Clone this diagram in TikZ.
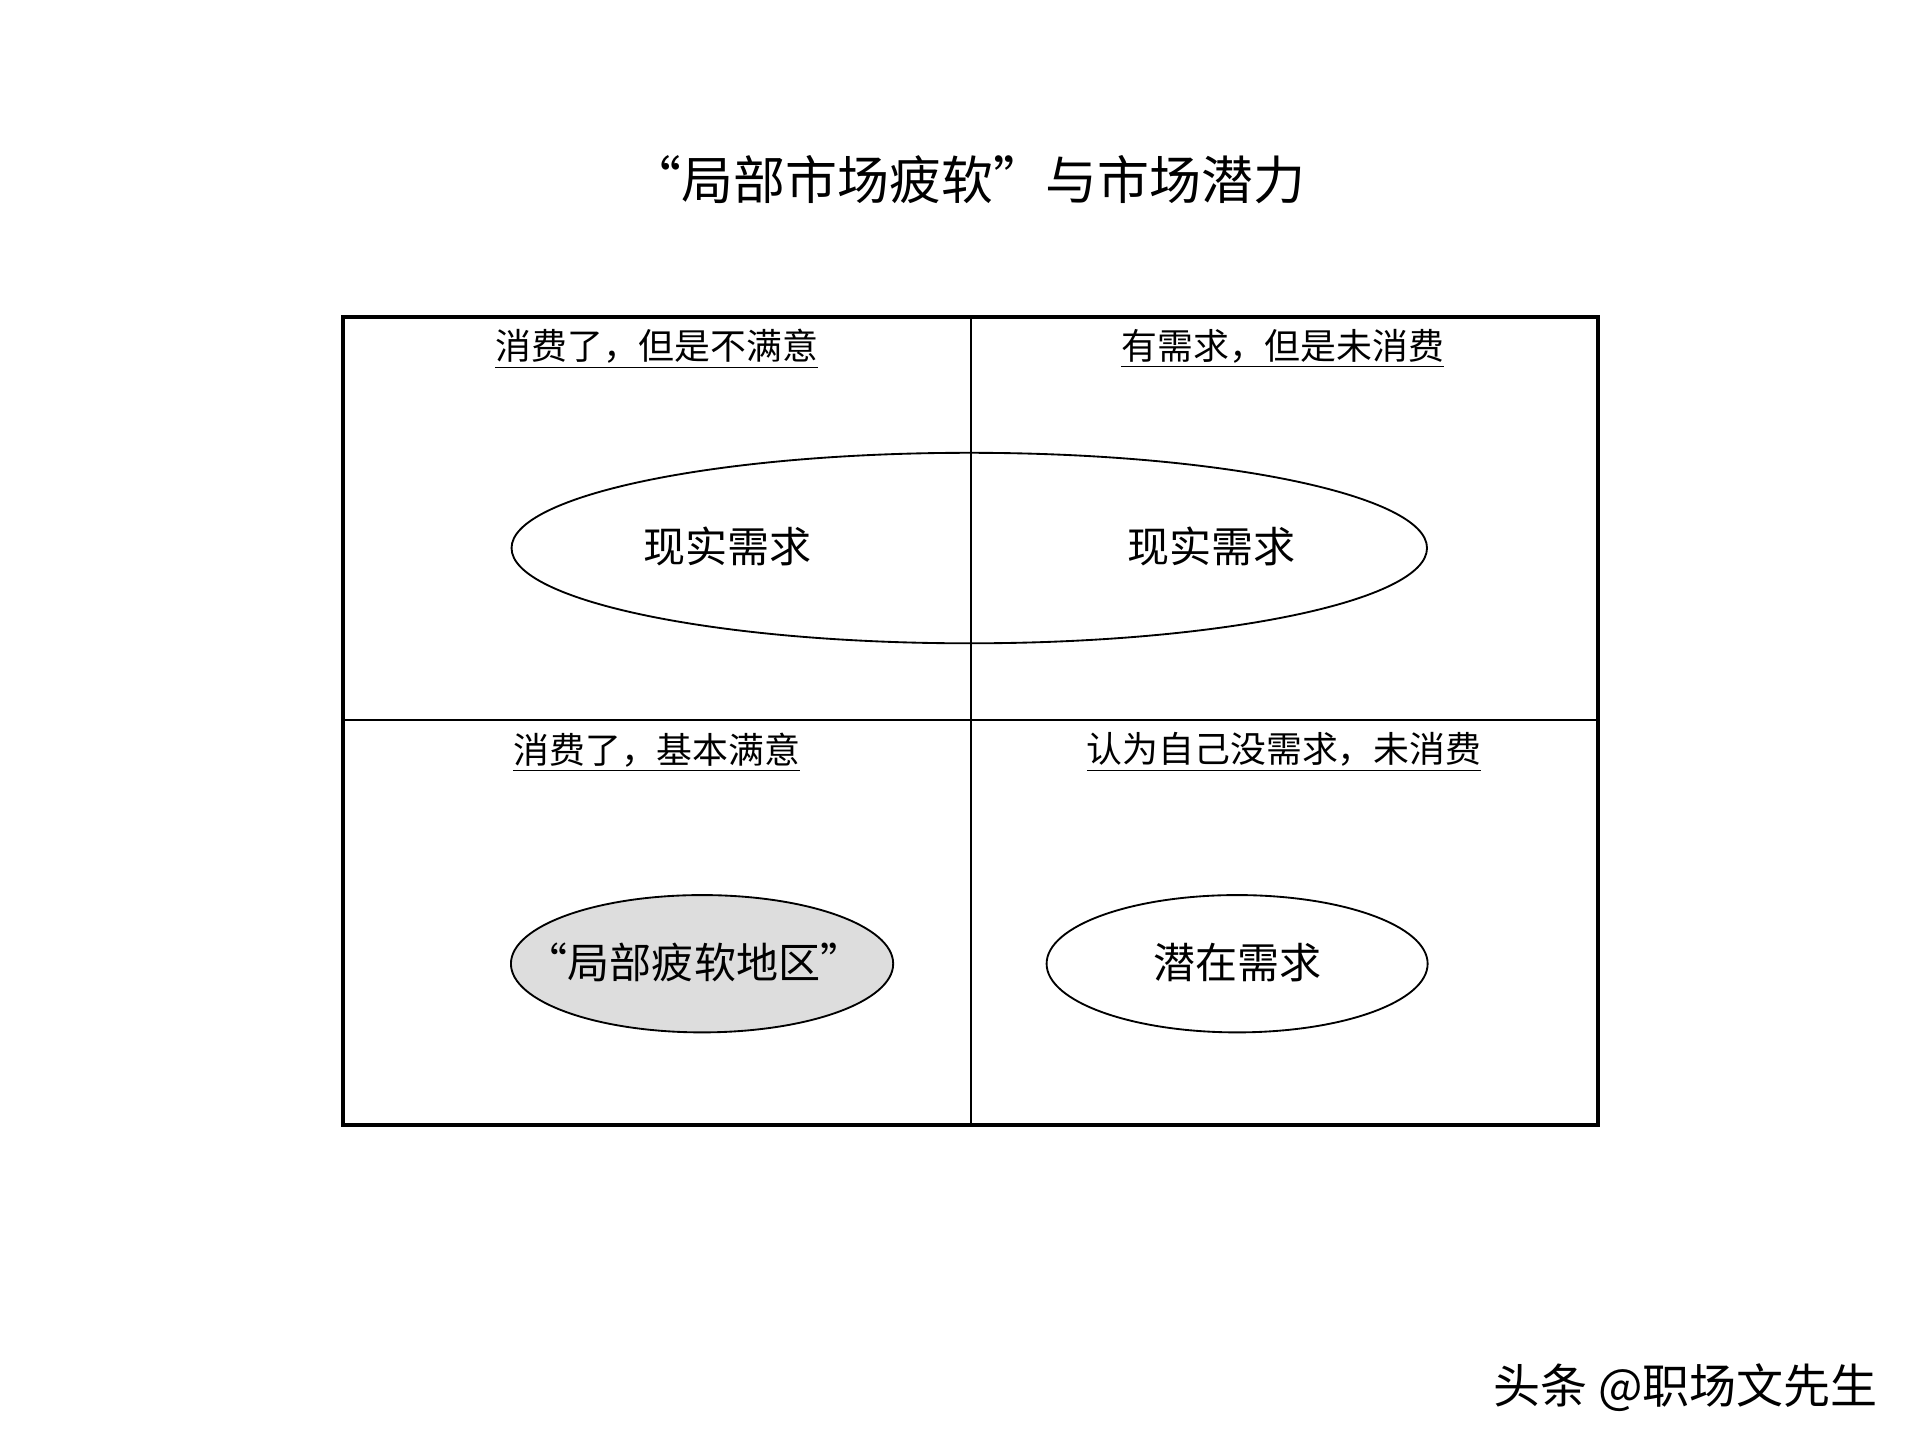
\documentclass[tikz,border=0pt]{standalone}
\usepackage{fontspec}
\usetikzlibrary{shapes.geometric}
\newfontfamily\cjk{Noto Sans CJK SC}
\begin{document}
\begin{tikzpicture}[x=0.5pt,y=-0.5pt,
  lbl/.style={font=\cjk\fontsize{14.5}{17}\selectfont, inner sep=0pt},
  ell/.style={draw, ellipse, line width=0.75pt, inner sep=0pt},
  etext/.style={font=\cjk\fontsize{17}{20}\selectfont, inner sep=0pt}]
\useasboundingbox (0,0) rectangle (1552,1164);
% grid
\coordinate (tl) at (277,256);
\coordinate (br) at (1292,909);
\coordinate (mt) at (785,256);
\coordinate (mb) at (785,909);
\coordinate (ml) at (277,582);
\coordinate (mr) at (1292,582);
\draw[line width=1pt] (mt) -- (mb);
\draw[line width=1pt] (ml) -- (mr);
\draw[line width=1.6pt] (tl) rectangle (br);
% title
\node[font=\cjk\fontsize{21}{25}\selectfont, inner sep=0pt] (title) at (782,145) {“局部市场疲软”与市场潜力};
% labels
\node[lbl] (l1) at (531,282) {\underline{消费了，但是不满意}};
\node[lbl] (l2) at (1037,282) {\underline{有需求，但是未消费}};
\node[lbl] (l3) at (531,608) {\underline{消费了，基本满意}};
\node[lbl] (l4) at (1038,608) {\underline{认为自己没需求，未消费}};
% ellipses
\node[ell, minimum width=370pt, minimum height=77pt] (big) at (783.5,443) {};
\node[etext] (t1) at (588,442) {现实需求};
\node[etext] (t2) at (979,442) {现实需求};
\node[ell, fill={rgb,255:red,221;green,221;blue,221}, minimum width=154.5pt, minimum height=55.5pt] (soft) at (567.5,779) {};
\node[etext] (t3) at (561,778) {“局部疲软地区”};
\node[ell, minimum width=154pt, minimum height=55.5pt] (pot) at (1000,779) {};
\node[etext] (t4) at (1000,778) {潜在需求};
% watermark
\node[font=\cjk\fontsize{19}{22}\selectfont, inner sep=0pt, anchor=west] (wm) at (1207,1122) {头条 @职场文先生};
\end{tikzpicture}
\end{document}
